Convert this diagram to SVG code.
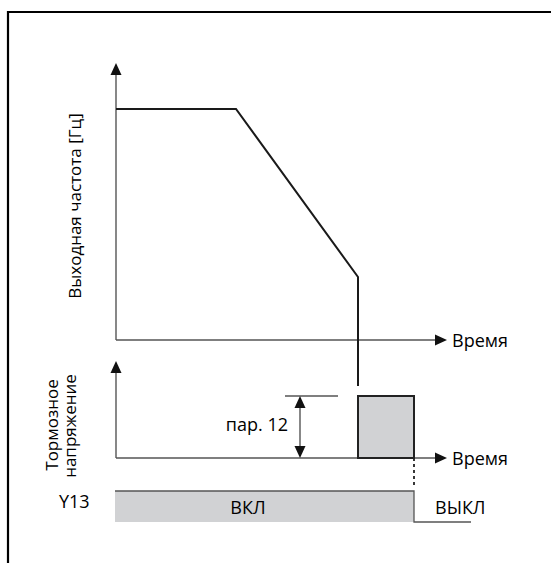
<svg xmlns="http://www.w3.org/2000/svg" width="551" height="563" viewBox="0 0 551 563">
<style>
text{font-family:"Open Sans","Noto Sans",sans-serif;font-size:18px;fill:#000}
.rt{font-size:17px}
.ax{stroke:#555;stroke-width:1.4;fill:none}
.cv{stroke:#1a1a1a;stroke-width:2;fill:none}
.ah{fill:#111}
</style>
<rect width="551" height="563" fill="#fff"/>
<path d="M8,563 V12 H551" stroke="#000" stroke-width="2.2" fill="none"/>
<g id="connectors">
<path class="ax" d="M116,340 V74"/>
<polygon class="ah" points="116,63 110.5,75 121.5,75"/>
<path class="ax" d="M116,340 H436"/>
<polygon class="ah" points="447,340 435,334.5 435,345.5"/>
<path class="cv" d="M116,109 H236 L358,277 V386"/>
<path class="ax" d="M116,458 V372"/>
<polygon class="ah" points="116,361 110.5,373 121.5,373"/>
<path class="ax" d="M116,458 H436"/>
<polygon class="ah" points="447,458 435,452.5 435,463.5"/>
<path class="ax" d="M285,396 H338"/>
<path class="ax" d="M300,405 V449"/>
<polygon class="ah" points="300,396 294.5,408 305.5,408"/>
<polygon class="ah" points="300,458 294.5,446 305.5,446"/>
<path d="M414,458 V488" stroke="#222" stroke-width="1.8" stroke-dasharray="3,3" fill="none"/>
</g>
<g id="pulse">
<rect x="358" y="396" width="56" height="62" fill="#d1d2d4" stroke="#222" stroke-width="2"/>
</g>
<g id="y13">
<rect x="115" y="491" width="299" height="31" fill="#d1d2d4"/>
<path d="M115,491 H414 V522 H471" stroke="#555" stroke-width="1.3" fill="none"/>
<text x="248" y="514" text-anchor="middle">ВКЛ</text>
<text x="435" y="514">ВЫКЛ</text>
<text x="59" y="508">Y13</text>
</g>
<g id="labels">
<text class="rt" transform="translate(81,206) rotate(-90)" text-anchor="middle">Выходная частота [Гц]</text>
<text x="452" y="347">Время</text>
<text x="452" y="465">Время</text>
<text x="288" y="431" text-anchor="end">пар. 12</text>
<text class="rt" transform="translate(58,425) rotate(-90)" text-anchor="middle">Тормозное</text>
<text class="rt" transform="translate(76,426) rotate(-90)" text-anchor="middle">напряжение</text>
</g>
</svg>
